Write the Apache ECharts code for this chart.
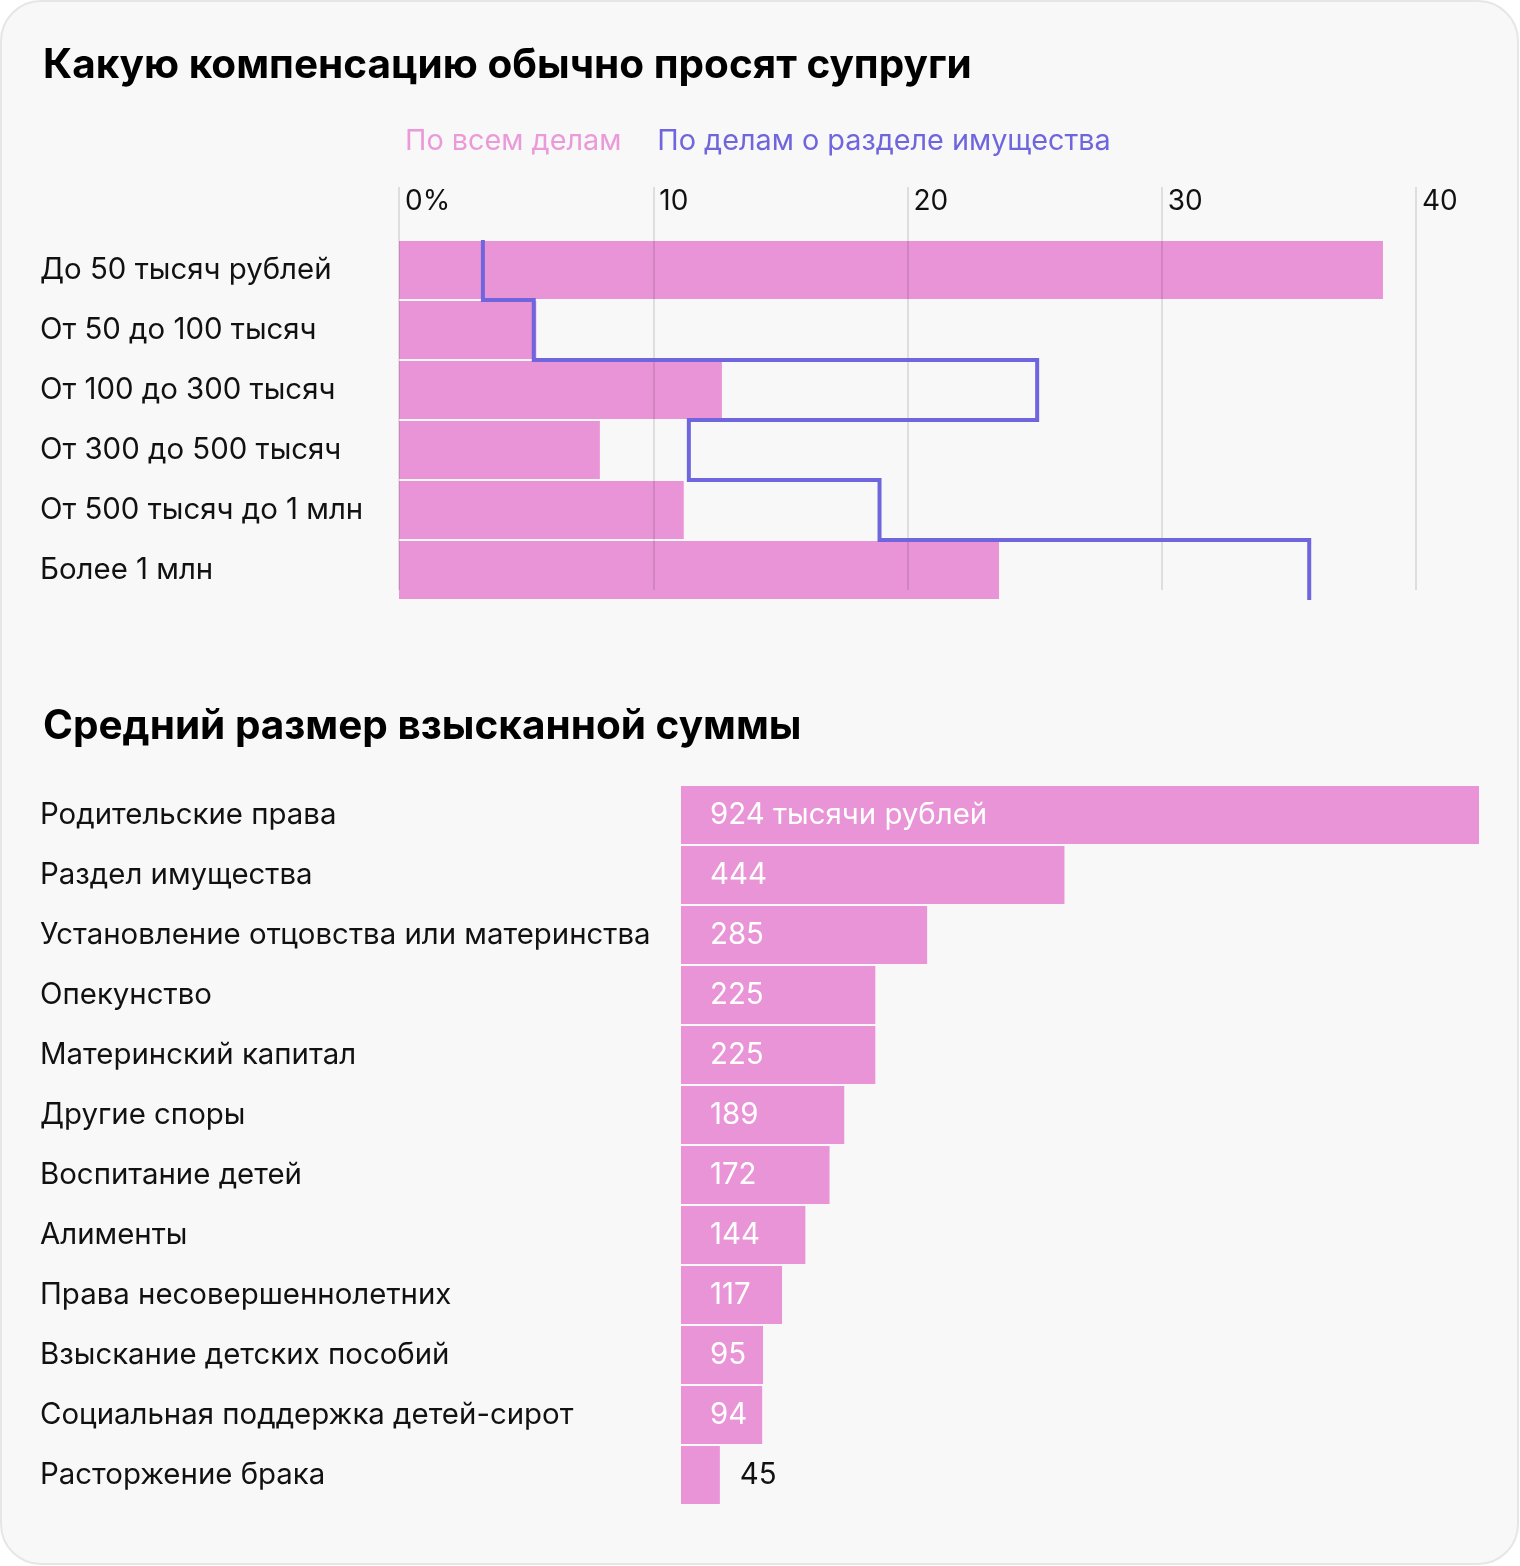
<!DOCTYPE html>
<html><head><meta charset="utf-8">
<script src="https://cdn.jsdelivr.net/npm/echarts@6/dist/echarts.min.js"></script>
<style>html,body{margin:0;padding:0;background:#fff}#c{width:1520px;height:1566px}</style>
</head><body><div id="c"></div>
<script>
// ---- data ----
const title1 = 'Какую компенсацию обычно просят супруги';
const title2 = 'Средний размер взысканной суммы';
const seriesAllName = 'По всем делам';
const seriesPropName = 'По делам о разделе имущества';
const askCategories = ['До 50 тысяч рублей','От 50 до 100 тысяч','От 100 до 300 тысяч','От 300 до 500 тысяч','От 500 тысяч до 1 млн','Более 1 млн'];
const askAll = [38.7, 5.4, 12.7, 7.9, 11.2, 23.6];
const askProperty = [3.3, 5.3, 25.1, 11.4, 18.9, 35.8];
const askTicks = ['0%','10','20','30','40'];
const sumCategories = ['Родительские права','Раздел имущества','Установление отцовства или материнства','Опекунство','Материнский капитал','Другие споры','Воспитание детей','Алименты','Права несовершеннолетних','Взыскание детских пособий','Социальная поддержка детей-сирот','Расторжение брака'];
const sumValues = [924, 444, 285, 225, 225, 189, 172, 144, 117, 95, 94, 45];
const firstLabelSuffix = ' тысячи рублей';

// ---- styles ----
const FONT = 'Inter';
const FS = 29.4;
const PINK = '#e994d6';
const PINK_TEXT = '#eb9ad9';
const PURPLE = '#6f66dd';
const TEXT = '#111111';

// step line points built from the property values (band edges on a 0..N value axis)
const stepPoints = [];
askProperty.forEach((v, i) => { stepPoints.push([v, i]); stepPoints.push([v, i + 1]); });

const chart = echarts.init(document.getElementById('c'), null, {renderer: 'canvas'});
const option = {
  backgroundColor: '#ffffff',
  textStyle: {fontFamily: FONT},
  animation: false,
  graphic: [{
    type: 'rect', z: -10, silent: true,
    shape: {x: 1, y: 1, width: 1517, height: 1563, r: 40},
    style: {fill: '#f8f8f8', stroke: '#e6e6e6', lineWidth: 2}
  }],
  title: [
    {text: title1, left: 38, top: 40, textStyle: {fontFamily: FONT, fontSize: 40.5, fontWeight: 'bold', color: '#000'}},
    {text: title2, left: 38, top: 701, textStyle: {fontFamily: FONT, fontSize: 40.5, fontWeight: 'bold', color: '#000'}}
  ],
  legend: {
    left: 395, top: 122, itemWidth: 0, itemHeight: 0, itemGap: 31,
    icon: 'rect',
    textStyle: {fontFamily: FONT, fontSize: 28.8},
    data: [
      {name: seriesAllName, textStyle: {color: PINK_TEXT}},
      {name: seriesPropName, textStyle: {color: PURPLE}}
    ],
    selectedMode: false
  },
  grid: [
    {left: 399, right: 104, top: 240, height: 360, containLabel: false},
    {left: 399, right: 104, top: 187, height: 403, containLabel: false},
    {left: 681, right: 41, top: 785, height: 720, containLabel: false}
  ],
  xAxis: [
    {gridIndex: 0, type: 'value', min: 0, max: 40, show: false},
    {gridIndex: 1, type: 'value', min: 0, max: 40, interval: 10, position: 'top', z: 3,
      axisLine: {show: false}, axisTick: {show: false},
      splitLine: {show: true, lineStyle: {color: 'rgba(0,0,0,0.1)', width: 2}},
      axisLabel: {inside: true, margin: 0, align: 'left', verticalAlign: 'top', padding: [1,0,0,6], color: TEXT, fontSize: 28, fontFamily: FONT,
        formatter: (v) => askTicks[Math.round(v / 10)]}},
    {gridIndex: 2, type: 'value', min: 0, max: 924, show: false}
  ],
  yAxis: [
    {gridIndex: 0, type: 'category', data: askCategories, inverse: true,
      axisLine: {show: false}, axisTick: {show: false}, splitLine: {show: false},
      axisLabel: {align: 'left', margin: 359, color: TEXT, fontSize: FS, fontFamily: FONT, padding: [5,0,0,0]}},
    {gridIndex: 0, type: 'value', min: 0, max: askCategories.length, inverse: true, show: false},
    {gridIndex: 1, type: 'category', data: askCategories, show: false},
    {gridIndex: 2, type: 'category', data: sumCategories, inverse: true,
      axisLine: {show: false}, axisTick: {show: false}, splitLine: {show: false},
      axisLabel: {align: 'left', margin: 641, color: TEXT, fontSize: FS, fontFamily: FONT, padding: [3,0,0,0]}}
  ],
  series: [
    {name: seriesAllName, type: 'bar', xAxisIndex: 0, yAxisIndex: 0, data: askAll,
      barCategoryGap: '3.4%', itemStyle: {color: PINK}, z: 2},
    {name: seriesPropName, type: 'line', xAxisIndex: 0, yAxisIndex: 1, data: stepPoints,
      showSymbol: false, symbol: 'none', z: 5,
      lineStyle: {color: PURPLE, width: 4, join: 'miter'}, itemStyle: {color: PURPLE}},
    {name: 'sum', type: 'bar', xAxisIndex: 2, yAxisIndex: 3,
      data: sumValues.map((v, i) => i === sumValues.length - 1
        ? {value: v, label: {position: 'right', distance: 20, color: TEXT}}
        : v),
      barCategoryGap: '3.4%', itemStyle: {color: PINK},
      label: {show: true, position: 'insideLeft', distance: 29, color: '#ffffff', fontSize: FS, fontFamily: FONT, padding: [3,0,0,0],
        formatter: (p) => p.dataIndex === 0 ? p.value + firstLabelSuffix : String(p.value)}}
  ]
};
chart.setOption(option);
</script></body></html>
